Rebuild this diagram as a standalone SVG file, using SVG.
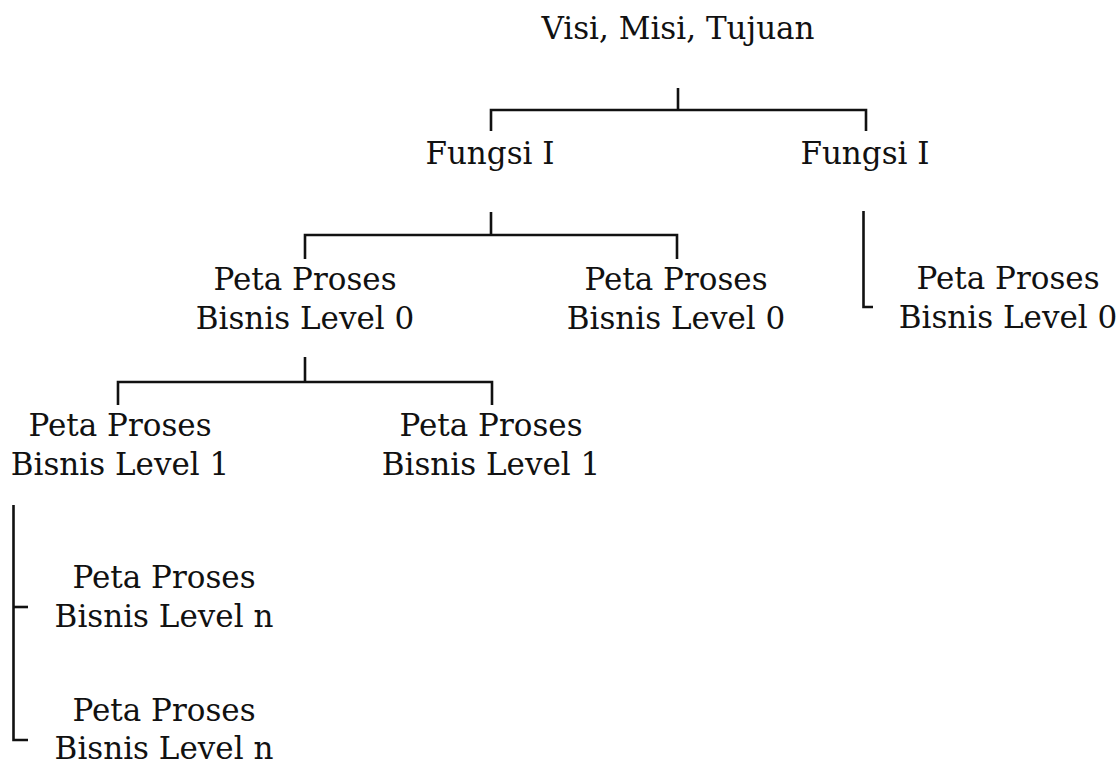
<svg xmlns="http://www.w3.org/2000/svg" width="1118" height="764" viewBox="0 0 1118 764">
<style>
  text { font-family: "DejaVu Serif", "Liberation Serif", serif; font-size: 31px; fill: #111; text-anchor: middle; }
  .conn path { fill: none; stroke: #111; stroke-width: 2.6; }
</style>
<rect width="1118" height="764" fill="#fff"/>
<g class="conn" id="connectors">
  <path d="M678 88 V110"/>
  <path d="M491 131 V110 H866 V131"/>
  <path d="M491 212 V235"/>
  <path d="M305 259 V235 H677 V259"/>
  <path d="M863.5 211 V307 H873"/>
  <path d="M305 357 V382"/>
  <path d="M118 405 V382 H492 V405"/>
  <path d="M13.5 505 V740 H28"/>
  <path d="M13.5 607 H28"/>
</g>
<g id="root"><text x="678" y="39">Visi, Misi, Tujuan</text></g>
<g id="fungsi1"><text x="490" y="164">Fungsi I</text></g>
<g id="fungsi2"><text x="865" y="164">Fungsi I</text></g>
<g id="l0a"><text x="305" y="290">Peta Proses</text><text x="305" y="329">Bisnis Level 0</text></g>
<g id="l0b"><text x="676" y="290">Peta Proses</text><text x="676" y="329">Bisnis Level 0</text></g>
<g id="l0c"><text x="1008" y="289">Peta Proses</text><text x="1008" y="328">Bisnis Level 0</text></g>
<g id="l1a"><text x="120" y="436">Peta Proses</text><text x="120" y="475">Bisnis Level 1</text></g>
<g id="l1b"><text x="491" y="436">Peta Proses</text><text x="491" y="475">Bisnis Level 1</text></g>
<g id="ln1"><text x="164" y="588">Peta Proses</text><text x="164" y="627">Bisnis Level n</text></g>
<g id="ln2"><text x="164" y="721">Peta Proses</text><text x="164" y="759">Bisnis Level n</text></g>
</svg>
